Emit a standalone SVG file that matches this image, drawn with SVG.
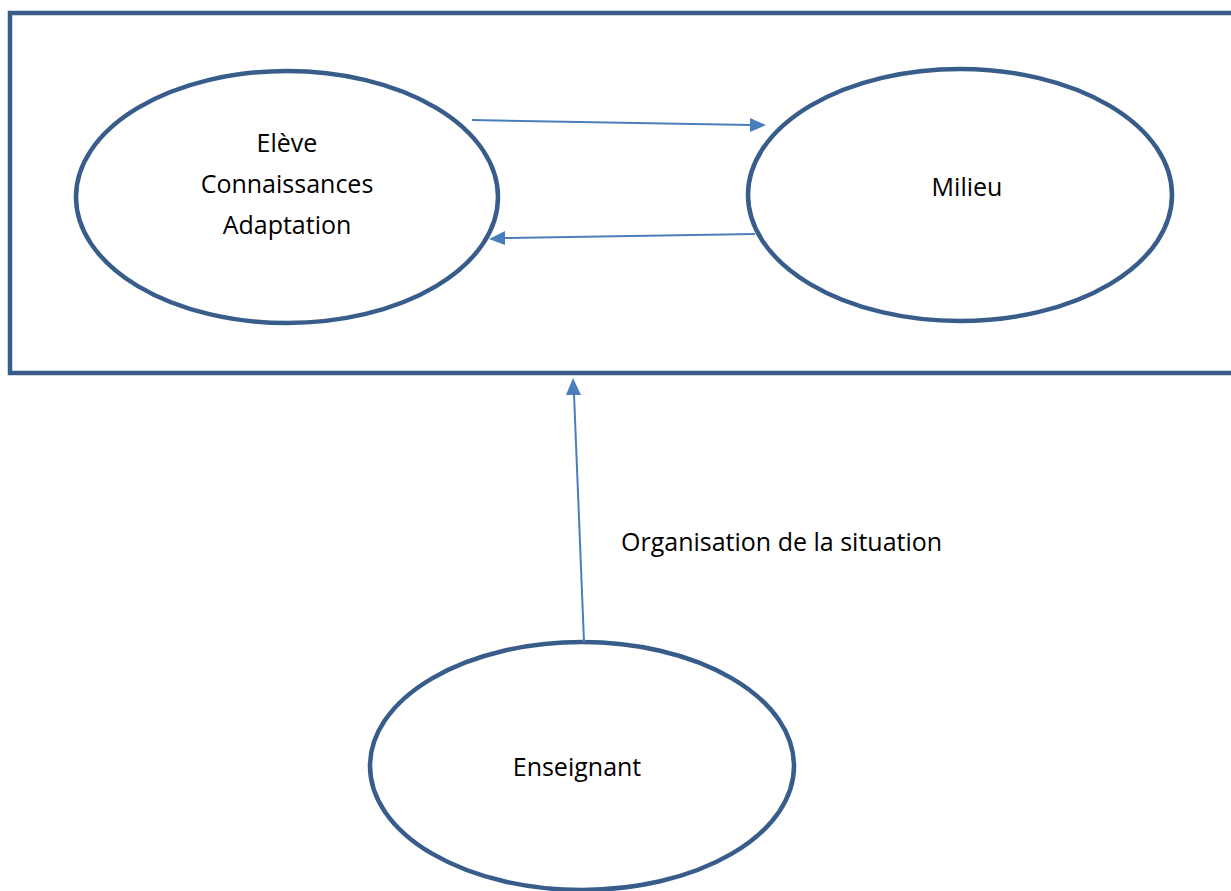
<svg xmlns="http://www.w3.org/2000/svg" width="1231" height="891" viewBox="0 0 1231 891">
<style>
.node{fill:#fff;stroke:#385d8a;stroke-width:4.5}
.lbl{font-family:"Open Sans","Noto Sans",sans-serif;font-size:25px;fill:#000;text-anchor:middle}
.conn{stroke:#4a7ebb;stroke-width:2;fill:none}
.head{fill:#4a7ebb}
</style>
<rect width="1231" height="891" fill="#fff"/>
<g id="cadre"><path d="M1235,13 L10,13 L10,373 L1235,373" fill="none" stroke="#385d8a" stroke-width="4.5"/></g>
<g id="eleve">
<ellipse class="node" cx="287" cy="197" rx="211" ry="126"/>
<text class="lbl" x="287" y="152">Elève</text>
<text class="lbl" x="287" y="193">Connaissances</text>
<text class="lbl" x="287" y="234">Adaptation</text>
</g>
<g id="milieu">
<ellipse class="node" cx="960" cy="195" rx="212" ry="126"/>
<text class="lbl" x="967" y="196">Milieu</text>
</g>
<g id="enseignant">
<ellipse class="node" cx="582" cy="766" rx="212" ry="124"/>
<text class="lbl" x="577" y="776">Enseignant</text>
</g>
<g id="connecteurs">
<line class="conn" x1="472" y1="120" x2="750" y2="125"/>
<path class="head" d="M750,118 L766,125 L750,132 z"/>
<line class="conn" x1="755" y1="234" x2="505" y2="238"/>
<path class="head" d="M505,231 L489,239 L505,245 z"/>
<line class="conn" x1="584" y1="642" x2="574" y2="394"/>
<path class="head" d="M566,395 L573,378 L581,395 z"/>
<text x="621" y="551" style="font-family:'Open Sans','Noto Sans',sans-serif;font-size:25px;fill:#000">Organisation de la situation</text>
</g>
</svg>
